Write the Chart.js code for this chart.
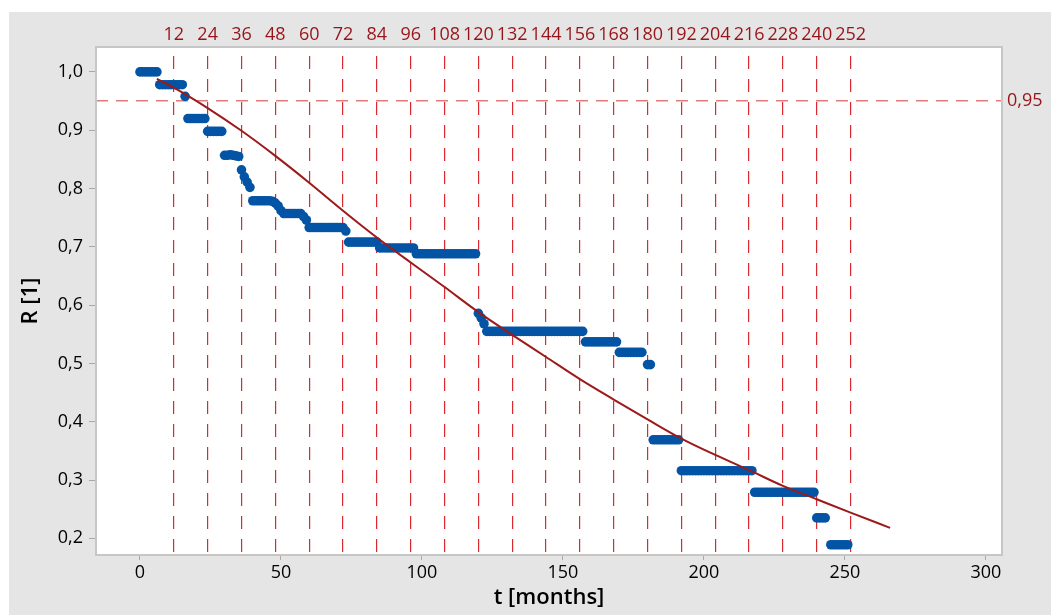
<!DOCTYPE html>
<html>
<head>
<meta charset="utf-8">
<script src="https://cdn.jsdelivr.net/npm/chart.js@4/dist/chart.umd.min.js"></script>
<style>
  html, body { margin: 0; padding: 0; background: #ffffff; }
  #c { display: block; }
</style>
</head>
<body>
<canvas id="c" width="1051" height="615"></canvas>
<script>
// ---- Data ----
// Empirical reliability points (months, R)
const obsTimes = [
  0,1,2,3,4,5,6,
  7,8,9,10,11,12,13,14,15,
  16,
  17,18,19,20,21,22,23,
  24,25,26,27,28,29,
  30,31,32,33,34,35,
  36,37,38,39,
  40,41,42,43,44,45,46,47,
  48,49,50,
  51,52,53,54,55,56,57,
  58,59,
  60,61,62,63,64,65,66,67,68,69,70,71,72,
  73,
  74,75,76,77,78,79,80,81,82,83,84,
  85,86,87,88,89,90,91,92,93,94,95,96,97,
  98,99,100,101,102,103,104,105,106,107,108,109,110,111,112,113,114,115,116,117,118,119,
  120,121,122,
  123,124,125,126,127,128,129,130,131,132,133,134,135,136,137,138,139,140,141,142,143,144,145,146,147,148,149,150,151,152,153,154,155,156,157,
  158,159,160,161,162,163,164,165,166,167,168,169,
  170,171,172,173,174,175,176,177,178,
  180,181,
  182,183,184,185,186,187,188,189,190,191,
  192,193,194,195,196,197,198,199,200,201,202,203,204,205,206,207,208,209,210,211,212,213,214,215,216,217,
  218,219,220,221,222,223,224,225,226,227,228,229,230,231,232,233,234,235,236,237,238,239,
  240,241,242,243,
  245,246,247,248,249,250,251
];
const obsR = [
  1,1,1,1,1,1,1,
  0.978,0.978,0.978,0.978,0.978,0.978,0.978,0.978,0.978,
  0.958,
  0.92,0.92,0.92,0.92,0.92,0.92,0.92,
  0.898,0.898,0.898,0.898,0.898,0.898,
  0.857,0.857,0.858,0.857,0.856,0.855,
  0.832,0.820,0.811,0.802,
  0.779,0.779,0.779,0.779,0.779,0.779,0.779,0.778,
  0.775,0.770,0.762,
  0.757,0.757,0.757,0.757,0.757,0.757,0.757,
  0.752,0.746,
  0.733,0.733,0.733,0.733,0.733,0.733,0.733,0.733,0.733,0.733,0.733,0.733,0.733,
  0.727,
  0.708,0.708,0.708,0.708,0.708,0.708,0.708,0.708,0.708,0.708,0.708,
  0.698,0.698,0.698,0.698,0.698,0.698,0.698,0.698,0.698,0.698,0.698,0.698,0.698,
  0.688,0.688,0.688,0.688,0.688,0.688,0.688,0.688,0.688,0.688,0.688,0.688,0.688,0.688,0.688,0.688,0.688,0.688,0.688,0.688,0.688,0.688,
  0.586,0.578,0.568,
  0.555,0.555,0.555,0.555,0.555,0.555,0.555,0.555,0.555,0.555,0.555,0.555,0.555,0.555,0.555,0.555,0.555,0.555,0.555,0.555,0.555,0.555,0.555,0.555,0.555,0.555,0.555,0.555,0.555,0.555,0.555,0.555,0.555,0.555,0.555,
  0.537,0.537,0.537,0.537,0.537,0.537,0.537,0.537,0.537,0.537,0.537,0.537,
  0.519,0.519,0.519,0.519,0.519,0.519,0.519,0.519,0.519,
  0.498,0.498,
  0.369,0.369,0.369,0.369,0.369,0.369,0.369,0.369,0.369,0.369,
  0.316,0.316,0.316,0.316,0.316,0.316,0.316,0.316,0.316,0.316,0.316,0.316,0.316,0.316,0.316,0.316,0.316,0.316,0.316,0.316,0.316,0.316,0.316,0.316,0.316,0.316,
  0.279,0.279,0.279,0.279,0.279,0.279,0.279,0.279,0.279,0.279,0.279,0.279,0.279,0.279,0.279,0.279,0.279,0.279,0.279,0.279,0.279,0.279,
  0.235,0.235,0.235,0.235,
  0.189,0.189,0.189,0.189,0.189,0.189,0.189
];

// Fitted reliability curve
const fitTimes = [6,12,24,36,48,60,72,84,96,108,120,132,144,156,168,180,192,204,216,228,240,252,266];
const fitR     = [0.988,0.973,0.938,0.899,0.856,0.810,0.762,0.716,0.673,0.631,0.588,0.549,0.511,0.473,0.438,0.404,0.371,0.343,0.317,0.290,0.267,0.244,0.218];

// Tick labels
const xTicks = [0,50,100,150,200,250,300];
const yTicks = [0.2,0.3,0.4,0.5,0.6,0.7,0.8,0.9,1.0];
const monthMarks = [12,24,36,48,60,72,84,96,108,120,132,144,156,168,180,192,204,216,228,240,252];
const targetR = [0.95];

// ---- Chart ----
const X_MIN = -15.6, X_MAX = 305.7, Y_MIN = 0.1714, Y_MAX = 1.0427;
const FONT = "'Open Sans', 'Noto Sans', sans-serif";
const DARKRED = '#981418';

const bgPlugin = {
  id: 'bg',
  beforeDraw(chart) {
    const ctx = chart.ctx, a = chart.chartArea;
    ctx.save();
    ctx.fillStyle = '#ffffff';
    ctx.fillRect(0, 0, chart.width, chart.height);
    ctx.fillStyle = '#e5e5e5';
    ctx.fillRect(9, 12, chart.width - 9, chart.height - 12);
    ctx.fillStyle = '#ffffff';
    ctx.fillRect(a.left, a.top, a.right - a.left, a.bottom - a.top);
    ctx.restore();
  }
};

const fixTicks = arr => scale => { scale.ticks = arr.map(v => ({ value: v })); };
const tickFont = { family: FONT, size: 18 };

new Chart(document.getElementById('c'), {
  data: {
    datasets: [
      {
        type: 'line',
        data: fitTimes.map((t, i) => ({ x: t, y: fitR[i] })),
        borderColor: '#9c1a1a',
        borderWidth: 2,
        pointRadius: 0,
        cubicInterpolationMode: 'monotone',
        fill: false,
        order: 0
      },
      {
        type: 'scatter',
        data: obsTimes.map((t, i) => ({ x: t, y: obsR[i] })),
        backgroundColor: '#0354a5',
        borderWidth: 0,
        pointRadius: 4.8,
        order: 1
      }
    ]
  },
  options: {
    responsive: false,
    animation: false,
    layout: { padding: 0 },
    plugins: { legend: { display: false }, tooltip: { enabled: false } },
    scales: {
      x: {
        type: 'linear', position: 'bottom', min: X_MIN, max: X_MAX,
        afterBuildTicks: fixTicks(xTicks),
        afterFit: s => { s.height = 60; },
        grid: { drawOnChartArea: false, drawTicks: true, tickLength: 5, tickColor: '#a9a9a9', tickWidth: 1 },
        border: { color: '#c6c6c6', width: 2 },
        ticks: { color: '#000', padding: 2, font: tickFont, maxRotation: 0 },
        title: { display: true, text: 't [months]', color: '#000', font: { family: FONT, size: 22, weight: '600' }, padding: { top: 0, bottom: 4 } }
      },
      x2: {
        type: 'linear', position: 'top', min: X_MIN, max: X_MAX,
        afterBuildTicks: fixTicks(monthMarks),
        afterFit: s => { s.height = 47; },
        grid: { drawOnChartArea: true, drawTicks: false, color: '#db2a2f', lineWidth: 1.2 },
        border: { color: '#c6c6c6', width: 2, dash: [13, 10], dashOffset: 15 },
        ticks: { color: DARKRED, padding: 1, font: tickFont, maxRotation: 0, autoSkip: false }
      },
      y: {
        type: 'linear', position: 'left', min: Y_MIN, max: Y_MAX,
        afterBuildTicks: fixTicks(yTicks),
        afterFit: s => { s.width = 96; },
        grid: { drawOnChartArea: false, drawTicks: true, tickLength: 7, tickColor: '#a9a9a9', tickWidth: 1 },
        border: { color: '#c6c6c6', width: 2 },
        ticks: { color: '#000', padding: 6, font: tickFont,
                 callback: v => v.toFixed(1).replace('.', ',') },
        title: { display: true, text: 'R [1]', color: '#000', font: { family: FONT, size: 22, weight: '600' }, padding: { top: 18, bottom: 0 } }
      },
      y2: {
        type: 'linear', position: 'right', min: Y_MIN, max: Y_MAX,
        afterBuildTicks: fixTicks(targetR),
        afterFit: s => { s.width = 49; },
        grid: { drawOnChartArea: true, drawTicks: false, color: '#e27a7c', lineWidth: 1.6 },
        border: { color: '#c6c6c6', width: 2, dash: [12, 8] },
        ticks: { color: DARKRED, padding: 5, font: tickFont,
                 callback: v => v.toFixed(2).replace('.', ',') }
      }
    }
  },
  plugins: [bgPlugin]
});
</script>
</body>
</html>
